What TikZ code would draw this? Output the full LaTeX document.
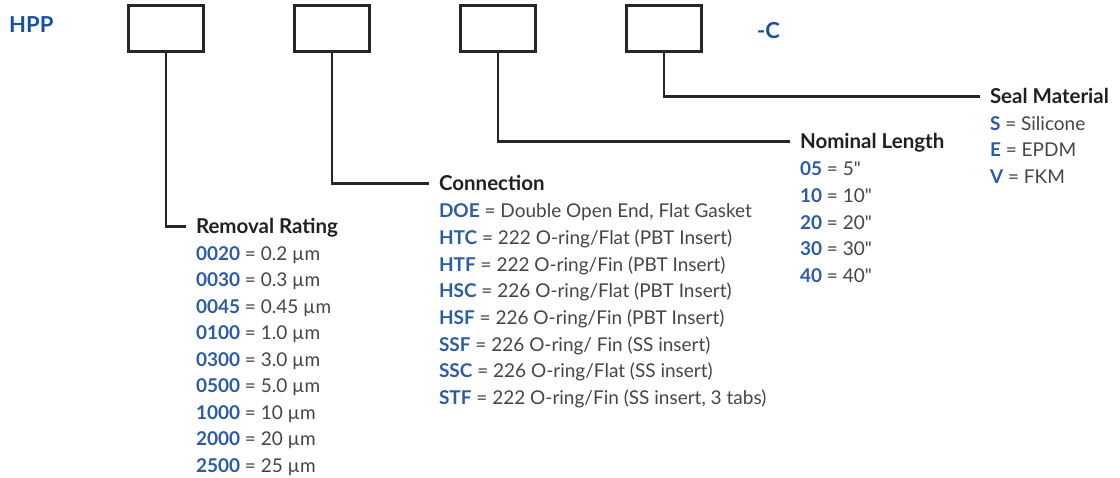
\documentclass[tikz,border=0pt]{standalone}
\usepackage{fontspec}
\setmainfont{Lato}
\newfontfamily\plainlato{Lato}
\usepackage{tikz}
\usetikzlibrary{positioning}
\definecolor{hppblue}{HTML}{1A4F9F}
\definecolor{codeblue}{HTML}{2D5CA6}
\definecolor{txtgray}{HTML}{454545}
\definecolor{headblack}{HTML}{231F20}
\definecolor{boxgray}{HTML}{262626}
\newcommand{\cd}[1]{\textbf{\textcolor{codeblue}{#1}}}
\newcommand{\inch}{{\plainlato"}}

\begin{document}
\begin{tikzpicture}[
x=1pt, y=-1pt,
  box/.style = {draw=boxgray, line width=2.6pt,% empty code fields
                minimum width=75pt, minimum height=46pt,
                inner sep=0pt, outer sep=0pt},
 link/.style = {draw=boxgray, line width=2.2pt},
 head/.style = {anchor=base west, inner sep=0pt, outer xsep=10pt,% field titles
                text height=15pt, text depth=0pt, text=headblack,
                font=\fontsize{20.5}{20.5}\selectfont\bfseries},
 item/.style = {anchor=base west, inner sep=0pt, outer xsep=10pt,% list lines
                text=txtgray, font=\fontsize{19}{19}\selectfont},
  tag/.style = {anchor=base west, inner sep=0pt, text=hppblue,
                font=\fontsize{22}{22}\selectfont\bfseries},
                        ]
\useasboundingbox (0,0) rectangle (1120,478);
\node[tag] (hpp) at (9,33) {HPP};
\foreach \x [count=\i] in {166,332,498,664}% <-- code fields
    \node[box] (b\i) at (\x,28.5) {};
\node[tag] (suffix) at (757,39) {-C};
% titles
\node[head] (rating) at (186,234) {Removal Rating};
\node[head] (conn)   at (429,191) {Connection};
\node[head] (length) at (790,149) {Nominal Length};
\node[head] (seal)   at (980,104) {Seal Material};
% leaders
\draw[link] (b1.south) |- (rating.west);
\draw[link] (b2.south) |- (conn.west);
\draw[link] (b3.south) |- (length.west);
\draw[link] (b4.south) |- (seal.west);
% lists
\foreach \c/\t [count=\i] in {0020/0.2 µm,0030/0.3 µm,0045/0.45 µm,0100/1.0 µm,
        0300/3.0 µm,0500/5.0 µm,1000/10 µm,2000/20 µm,2500/25 µm}
    \node[item] (rating-\i) at ([yshift=-\i*26.5pt]rating.base west) {\cd{\c} = \t};
\foreach \c/\t [count=\i] in {DOE/{Double Open End, Flat Gasket},
        HTC/{222 O-ring/Flat (PBT Insert)},HTF/{222 O-ring/Fin (PBT Insert)},
        HSC/{226 O-ring/Flat (PBT Insert)},HSF/{226 O-ring/Fin (PBT Insert)},
        SSF/{226 O-ring/ Fin (SS insert)},SSC/{226 O-ring/Flat (SS insert)},
        STF/{222 O-ring/Fin (SS insert, 3 tabs)}}
    \node[item] (conn-\i) at ([yshift=-\i*26.7pt]conn.base west) {\cd{\c} = \t};
\foreach \c/\t [count=\i] in {05/5\inch,10/10\inch,20/20\inch,30/30\inch,40/40\inch}
    \node[item] (length-\i) at ([yshift=-\i*26.7pt]length.base west) {\cd{\c} = \t};
\foreach \c/\t [count=\i] in {S/Silicone,E/EPDM,V/FKM}
    \node[item] (seal-\i) at ([yshift=-\i*26.5pt]seal.base west) {\cd{\c} = \t};
\end{tikzpicture}
\end{document}
